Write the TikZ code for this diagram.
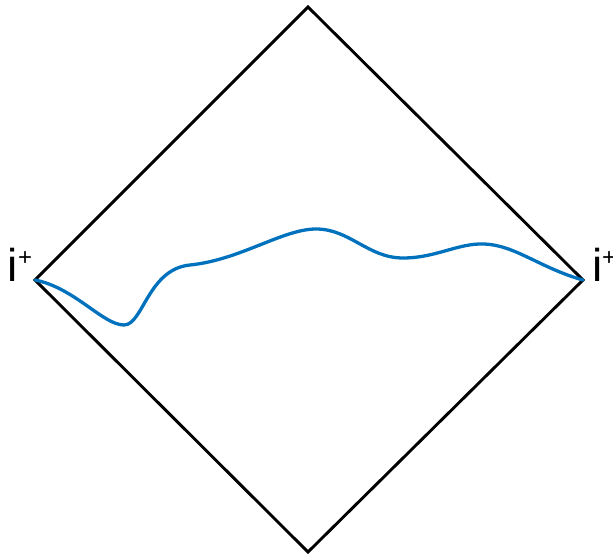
\documentclass[tikz,border=0pt]{standalone}
\usepackage{fontspec}
\setmainfont{Liberation Sans}
\definecolor{curveblue}{RGB}{0,114,189}
\begin{document}
\begin{tikzpicture}[x=1pt,y=1pt,
  frame/.style={draw=black,line width=2.9pt,line join=miter},
  wave/.style={draw=curveblue,line width=3.3pt,line cap=round},
  ilabel/.style={anchor=base west,inner sep=0pt,outer sep=0pt}]
\useasboundingbox (0,0) rectangle (613,555);
\coordinate (T) at (308,548);
\coordinate (B) at (308,3);
\coordinate (L) at (35,275);
\coordinate (R) at (583,275);
\draw[frame] (T) -- (R) -- (B) -- (L) -- cycle;
\draw[wave] (L) .. controls (75,267) and (103,230) .. (124,230)
  .. controls (143,230) and (148,286) .. (190,290)
  .. controls (240,295) and (283,326) .. (316,326)
  .. controls (350,326) and (368,297) .. (403,297)
  .. controls (436,297) and (458,312) .. (484,311)
  .. controls (515,310) and (540,287) .. (R);
\node[ilabel] (il) at (8,273) {\fontsize{46}{46}\selectfont i\raisebox{16pt}{\fontsize{24}{24}\selectfont +}};
\node[ilabel] (ir) at (592,273) {\fontsize{46}{46}\selectfont i\raisebox{16pt}{\fontsize{24}{24}\selectfont +}};
\end{tikzpicture}
\end{document}
